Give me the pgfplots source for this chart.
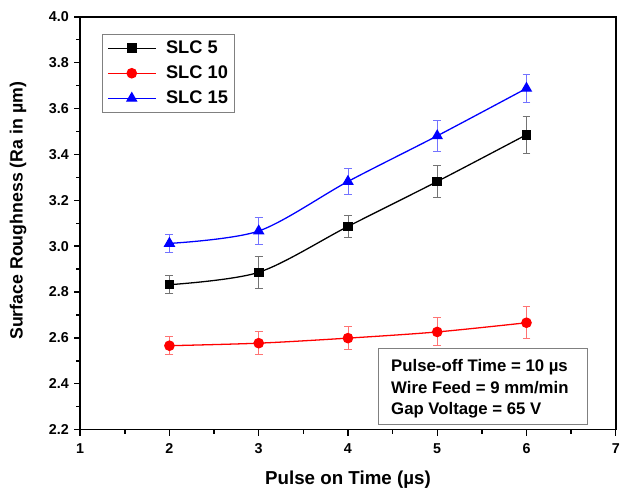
\documentclass[border=0pt]{standalone}
\usepackage{fontspec}
\setmainfont{Liberation Sans}
\usepackage{pgfplots}
\usepackage{pgfplotstable}
\pgfplotsset{compat=1.18}
\pgfplotstableread{
x y e
2 2.832 0.040
3 2.886 0.070
4 3.086 0.050
5 3.282 0.068
6 3.486 0.080
}\slcfive
\pgfplotstableread{
x y e
2 2.566 0.040
3 2.577 0.049
4 2.599 0.049
5 2.626 0.061
6 2.666 0.069
}\slcten
\pgfplotstableread{
x y e
2 3.012 0.040
3 3.066 0.058
4 3.282 0.058
5 3.481 0.068
6 3.688 0.060
}\slcfifteen
\begin{document}
\begin{tikzpicture}
\begin{axis}[
  scale only axis, width=541bp, height=417bp,
  xmin=1, xmax=7, ymin=2.2, ymax=4.0,
  xtick={1,2,3,4,5,6,7},
  ytick={2.2,2.4,2.6,2.8,3.0,3.2,3.4,3.6,3.8,4.0},
  minor x tick num=1, minor y tick num=1,
  xtick pos=bottom, ytick pos=left,
  tick align=outside,
  major tick length=6bp, minor tick length=4bp,
  every tick/.style={black, line width=1.4bp},
  axis line style={line width=1.6bp},
  /pgf/number format/assume math mode=true,
  yticklabel style={/pgf/number format/fixed, /pgf/number format/fixed zerofill, /pgf/number format/precision=1, xshift=-2bp},
  xticklabel style={yshift=-5bp},
  ticklabel style={font=\bfseries\fontsize{14.5}{17}\selectfont},
  xlabel={Pulse on Time (µs)},
  ylabel={Surface Roughness (Ra in µm)},
  xlabel style={font=\bfseries\fontsize{19}{22}\selectfont, at={(axis description cs:0.5,-0.134)}, anchor=base},
  ylabel style={font=\bfseries\fontsize{18}{21}\selectfont, at={(axis description cs:-0.116,0.53)}, anchor=center, rotate=0},
  legend style={at={(0.0407,0.9592)}, anchor=north west, draw=gray, line width=0.9bp,
    font=\bfseries\fontsize{18.5}{21}\selectfont, row sep=7bp, inner xsep=5bp, inner ysep=5bp,
    /tikz/every odd column/.append style={column sep=8bp}},
  legend image code/.code={\draw[mark repeat=2, mark phase=2, #1] plot coordinates {(0bp,0bp) (24bp,0bp) (48bp,0bp)};},
  legend cell align=left,
]
\addplot[black, line width=1.3bp, smooth, mark=square*, mark size=4.2bp, mark options={solid},
  error bars/.cd, y dir=both, y explicit,
  error bar style={black!55, line width=0.9bp},
  error mark options={rotate=90, mark size=4bp, black!55, line width=0.9bp}]
  table[x=x, y=y, y error=e] {\slcfive};
\addlegendentry{SLC 5}
\addplot[red, line width=1.3bp, smooth, mark=*, mark size=4.7bp, mark options={solid},
  error bars/.cd, y dir=both, y explicit,
  error bar style={red!55, line width=0.9bp},
  error mark options={rotate=90, mark size=4bp, red!55, line width=0.9bp}]
  table[x=x, y=y, y error=e] {\slcten};
\addlegendentry{SLC 10}
\addplot[blue, line width=1.3bp, smooth, mark=triangle*, mark size=5.5bp, mark options={solid},
  error bars/.cd, y dir=both, y explicit,
  error bar style={blue!55, line width=0.9bp},
  error mark options={rotate=90, mark size=4bp, blue!55, line width=0.9bp}]
  table[x=x, y=y, y error=e] {\slcfifteen};
\addlegendentry{SLC 15}
\draw[gray, line width=0.9bp, fill=white] (rel axis cs:0.5564,0.012) rectangle (rel axis cs:0.9464,0.1966);
\begin{scope}[every node/.style={anchor=base west, inner sep=0pt, font=\bfseries\fontsize{17}{20}\selectfont}]
\node at (rel axis cs:0.5804,0.1415) {Pulse-off Time = 10 µs};
\node at (rel axis cs:0.5804,0.0887) {Wire Feed = 9 mm/min};
\node at (rel axis cs:0.5804,0.0372) {Gap Voltage = 65 V};
\end{scope}
\end{axis}
\useasboundingbox ([shift={(-81bp,-63bp)}]current axis.south west) rectangle ([shift={(1bp,17bp)}]current axis.north east);
\end{tikzpicture}
\end{document}
